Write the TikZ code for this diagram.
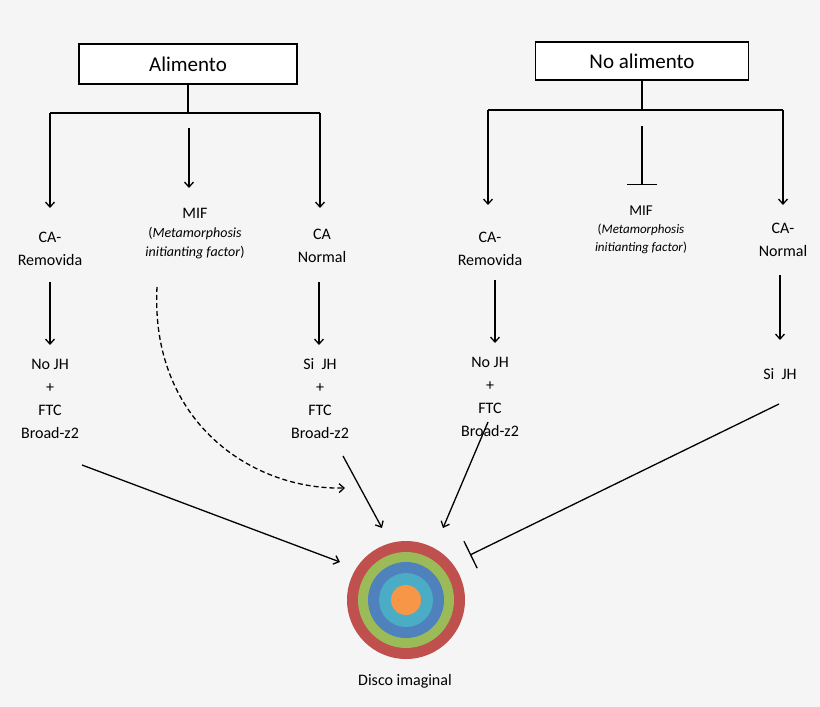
\documentclass[tikz,border=0pt]{standalone}
\usepackage{fontspec}
\setmainfont{Carlito}
\usetikzlibrary{arrows.meta}
\definecolor{bg}{HTML}{F5F5F5}
\definecolor{cr}{HTML}{C0504D}\definecolor{cg}{HTML}{9BBB59}\definecolor{cb}{HTML}{4F81BD}\definecolor{cc}{HTML}{4BACC6}\definecolor{co}{HTML}{F79646}
\begin{document}
\begin{tikzpicture}[x=1pt,y=-1pt,
 ln/.style={line width=1.3pt},
 ar/.style={ln,-{Stealth[length=7pt,width=7pt,open]}},
 ar2/.style={ln,-{Straight Barb[length=5pt,width=9pt]}},
 tb/.style={ln,-{Bar[width=30pt]}},
 box/.style={draw,line width=1.3pt,fill=white,minimum width=218pt,minimum height=40pt,font=\fontsize{21}{24}\selectfont},
 tx/.style={align=center,font=\fontsize{16}{23}\selectfont},
 sm/.style={align=center,font=\fontsize{14}{19}\selectfont}]
\fill[bg] (0,0) rectangle (820,707);
\useasboundingbox (0,0) rectangle (820,707);
% left
\node[box] (A) at (188,64) {Alimento};
\coordinate (aj) at (188,113);
\coordinate (al) at (50,113);\coordinate (ar) at (320,113);
\coordinate (am) at (189,128);
\draw[ln] (A.south) -- (aj); \draw[ln] (al) -- (ar);
\coordinate (a1) at (50,208);\coordinate (a3) at (320,208);\coordinate (a2) at (189,188);
\draw[ar2] (al) -- (a1); \draw[ar2] (ar) -- (a3); \draw[ar2] (am) -- (a2);
\node[tx] (lca) at (50,249) {CA-\\Removida};
\node[sm] (lmif) at (195,234) {{\fontsize{16}{19}\selectfont MIF}\\(\textit{Metamorphosis}\\\textit{initianting factor})};
\node[tx] (lcan) at (322,246) {CA\\Normal};
\coordinate (l1s) at (50,282);\coordinate (l1e) at (50,345);
\coordinate (l3s) at (319,282);\coordinate (l3e) at (319,345);
\draw[ar2] (l1s) -- (l1e); \draw[ar2] (l3s) -- (l3e);
\node[tx] (lno) at (50,399) {No JH\\+\\FTC\\Broad-z2};
\node[tx] (lsi) at (320,399) {Si\ \ JH\\+\\FTC\\Broad-z2};
% right
\node[box,minimum width=213pt,minimum height=38pt] (B) at (642,61) {No alimento};
\coordinate (bj) at (642,110);
\coordinate (bl) at (488,110);\coordinate (br) at (783,110);
\coordinate (bm) at (642,126);
\draw[ln] (B.south) -- (bj); \draw[ln] (bl) -- (br);
\coordinate (b1) at (488,205);\coordinate (b3) at (783,205);\coordinate (b2) at (642,185);
\draw[ar2] (bl) -- (b1); \draw[ar2] (br) -- (b3); \draw[tb] (bm) -- (b2);
\node[tx] (rca) at (490,249) {CA-\\Removida};
\node[sm,font=\fontsize{13}{18}\selectfont] (rmif) at (641,230) {{\fontsize{15}{18}\selectfont MIF}\\(\textit{Metamorphosis}\\\textit{initianting factor})};
\node[tx] (rcan) at (783,240) {CA-\\Normal};
\coordinate (r1s) at (495,280);\coordinate (r1e) at (495,343);
\coordinate (r3s) at (780,275);\coordinate (r3e) at (780,340);
\draw[ar2] (r1s) -- (r1e); \draw[ar2] (r3s) -- (r3e);
\node[tx] (rno) at (490,397) {No JH\\+\\FTC\\Broad-z2};
\node[tx] (rsi) at (780,374) {Si\ \ JH};
% disc
\node[circle,fill=cr,minimum size=118pt,inner sep=0] (D) at (406,600) {};
\fill[cg] (D.center) circle (48);
\fill[cb] (D.center) circle (38);
\fill[cc] (D.center) circle (27);
\fill[co] (D.center) circle (15);
\node[tx] (dl) at (405,681) {Disco imaginal};
% to disc
\coordinate (p1) at (82,465);\coordinate (q1) at (340,562);
\coordinate (p2) at (343,456);\coordinate (q2) at (382,528);
\coordinate (p3) at (488,422);\coordinate (q3) at (443,528);
\coordinate (p4) at (779,404);\coordinate (q4) at (470,555);
\coordinate (p5) at (157,287);\coordinate (q5) at (345,488);
\draw[ar2] (p1) -- (q1);
\draw[ar2] (p2) -- (q2);
\draw[ar2] (p3) -- (q3);
\draw[tb] (p4) -- (q4);
\draw[ar2,dashed,dash pattern=on 5pt off 3pt] (p5) .. controls (150,420) and (250,490) .. (q5);
\end{tikzpicture}
\end{document}
